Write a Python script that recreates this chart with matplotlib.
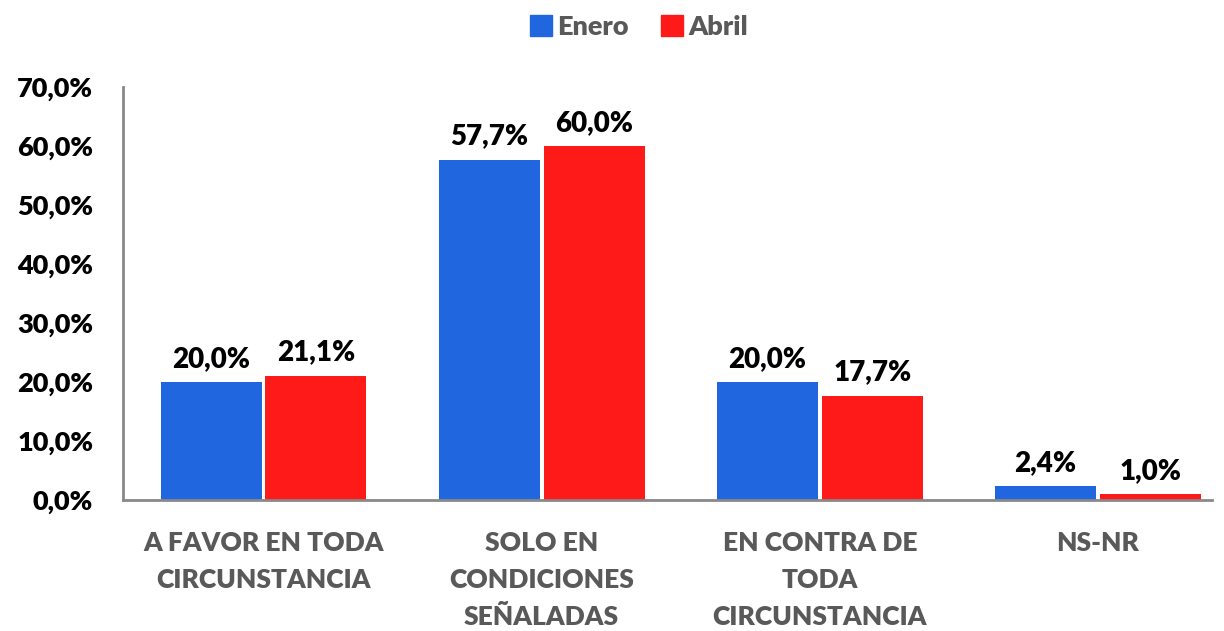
import numpy as np
import matplotlib.pyplot as plt
from matplotlib.patches import Patch

categorias = ['A FAVOR EN TODA\nCIRCUNSTANCIA', 'SOLO EN\nCONDICIONES\nSEÑALADAS',
              'EN CONTRA DE\nTODA\nCIRCUNSTANCIA', 'NS-NR']
enero = [20.0, 57.7, 20.0, 2.4]
abril = [21.1, 60.0, 17.7, 1.0]
series = ['Enero', 'Abril']

AZUL = '#1F66DF'
ROJO = '#FF1A1A'
GRIS = '#595959'
PESO = 'heavy'

plt.rcParams['font.family'] = ['Lato', 'DejaVu Sans']

fig = plt.figure(figsize=(12.24, 6.31), dpi=100)
ax = fig.add_axes([123 / 1224, 1 - 500 / 631, (1212 - 123) / 1224, (500 - 87) / 631])

x = np.arange(len(categorias))
w = 0.363
off = w / 2 + 0.007
b1 = ax.bar(x - off, enero, w, color=AZUL)
b2 = ax.bar(x + off, abril, w, color=ROJO)

def fmt(v):
    return '{:.1f}%'.format(v).replace('.', ',')

for bars, vals in [(b1, enero), (b2, abril)]:
    for r, v in zip(bars, vals):
        ax.text(r.get_x() + r.get_width() / 2, v + 1.7, fmt(v), ha='center', va='bottom',
                fontsize=20, fontweight=PESO, color='black')

ax.set_ylim(0, 70)
ax.set_xlim(-0.505, 3.41)
ax.set_yticks(np.arange(0, 71, 10))
ax.set_yticklabels([fmt(v) for v in np.arange(0, 71, 10)], fontsize=19.5, fontweight=PESO)
ax.set_xticks(x)
ax.set_xticklabels(categorias, fontsize=19, fontweight=PESO, color=GRIS, linespacing=1.65, va='top')
ax.tick_params(axis='both', length=0)
ax.tick_params(axis='x', pad=22)
ax.tick_params(axis='y', pad=21.5)

for s in ['top', 'right']:
    ax.spines[s].set_visible(False)
for s in ['left', 'bottom']:
    ax.spines[s].set_color('#898989')
    ax.spines[s].set_linewidth(2)

handles = [Patch(color=AZUL, label=series[0]), Patch(color=ROJO, label=series[1])]
leg = fig.legend(handles=handles, loc='center', bbox_to_anchor=(0.522, 1 - 27 / 631), ncol=2,
                 frameon=False, fontsize=19.5, handlelength=0.8, handleheight=0.8,
                 handletextpad=0.2, columnspacing=1.2)
for t in leg.get_texts():
    t.set_color(GRIS)
    t.set_fontweight(PESO)

fig.savefig('out.png', dpi=100)
